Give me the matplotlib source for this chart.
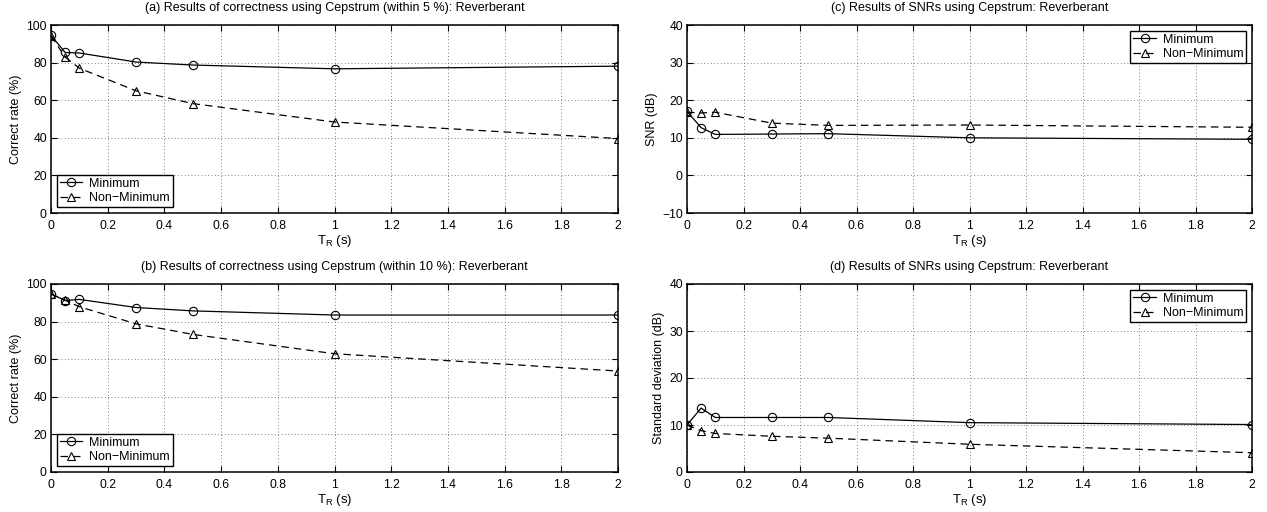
import matplotlib
matplotlib.use("Agg")
import matplotlib.pyplot as plt

plt.rcParams['font.family'] = ['Liberation Sans', 'DejaVu Sans']
plt.rcParams['mathtext.default'] = 'regular'

# Reverberation times (s)
t_r = [0, 0.05, 0.1, 0.3, 0.5, 1, 2]

# (a) correct rate within 5 %
rate5_min = [94.5, 85.4, 85.1, 80.3, 78.7, 76.7, 78.1]
rate5_nonmin = [94.2, 82.9, 77.0, 65.0, 58.2, 48.4, 39.6]

# (b) correct rate within 10 %
rate10_min = [94.7, 91.2, 91.8, 87.5, 85.7, 83.5, 83.5]
rate10_nonmin = [94.7, 91.4, 87.9, 78.8, 73.2, 62.9, 53.7]

# (c) SNR (dB)
snr_min = [17.0, 12.7, 10.9, 11.0, 11.1, 10.0, 9.6]
snr_nonmin = [16.8, 16.6, 16.8, 13.9, 13.3, 13.4, 12.8]

# (d) standard deviation (dB)
std_min = [10.0, 13.6, 11.6, 11.6, 11.6, 10.5, 10.1]
std_nonmin = [10.0, 8.8, 8.2, 7.6, 7.2, 5.9, 4.1]

xticks = [0, 0.2, 0.4, 0.6, 0.8, 1, 1.2, 1.4, 1.6, 1.8, 2]
xticklabels = ['0', '0.2', '0.4', '0.6', '0.8', '1', '1.2', '1.4', '1.6', '1.8', '2']

W, H = 1267, 512


def rect(x0, x1, y0, y1):
    return [x0 / W, 1 - y1 / H, (x1 - x0) / W, (y1 - y0) / H]


panels = [
    dict(title='(a) Results of correctness using Cepstrum (within 5 %): Reverberant',
         ylabel='Correct rate (%)', ymin=rate5_min, ynon=rate5_nonmin,
         ylim=(0, 100), yticks=[0, 20, 40, 60, 80, 100], loc='lower left',
         rect=rect(51, 618, 25, 213)),
    dict(title='(c) Results of SNRs using Cepstrum: Reverberant',
         ylabel='SNR (dB)', ymin=snr_min, ynon=snr_nonmin,
         ylim=(-10, 40), yticks=[-10, 0, 10, 20, 30, 40], loc='upper right',
         rect=rect(687, 1252, 25, 213)),
    dict(title='(b) Results of correctness using Cepstrum (within 10 %): Reverberant',
         ylabel='Correct rate (%)', ymin=rate10_min, ynon=rate10_nonmin,
         ylim=(0, 100), yticks=[0, 20, 40, 60, 80, 100], loc='lower left',
         rect=rect(51, 618, 284, 472)),
    dict(title='(d) Results of SNRs using Cepstrum: Reverberant',
         ylabel='Standard deviation (dB)', ymin=std_min, ynon=std_nonmin,
         ylim=(0, 40), yticks=[0, 10, 20, 30, 40], loc='upper right',
         rect=rect(687, 1252, 284, 472)),
]

fig = plt.figure(figsize=(W / 100, H / 100), dpi=100)

for p in panels:
    ax = fig.add_axes(p['rect'])
    ax.plot(t_r, p['ymin'], '-', color='black', lw=0.9, marker='o',
            markersize=6, markerfacecolor='none', markeredgewidth=0.8,
            label='Minimum')
    ax.plot(t_r, p['ynon'], '--', color='black', lw=0.9, marker='^',
            markersize=6, markerfacecolor='none', markeredgewidth=0.8,
            dashes=(6, 4), label='Non\u2212Minimum')
    ax.set_xlim(0, 2)
    ax.set_ylim(*p['ylim'])
    ax.set_xticks(xticks)
    ax.set_xticklabels(xticklabels)
    ax.set_yticks(p['yticks'])
    ax.grid(True, linestyle=(0, (1, 3)), color='#555555', lw=0.6)
    ax.tick_params(direction='in', length=4, width=0.8, labelsize=8.7,
                   top=True, right=True)
    ax.tick_params(axis='x', pad=5)
    ax.tick_params(axis='y', pad=3)
    for s in ax.spines.values():
        s.set_linewidth(1.1)
    ax.set_title(p['title'], fontsize=9, pad=10)
    ax.set_ylabel(p['ylabel'], fontsize=9, labelpad=3)
    ax.set_xlabel('$\\mathregular{T_R}$ (s)', fontsize=9.5, labelpad=1)
    leg = ax.legend(loc=p['loc'], fontsize=9, frameon=True, fancybox=False,
                    framealpha=1, borderaxespad=0.45, handlelength=1.8,
                    handletextpad=0.55, borderpad=0.25, labelspacing=0.2)
    leg.get_frame().set_edgecolor('black')
    leg.get_frame().set_linewidth(1.0)

fig.savefig('out.png', dpi=100)
